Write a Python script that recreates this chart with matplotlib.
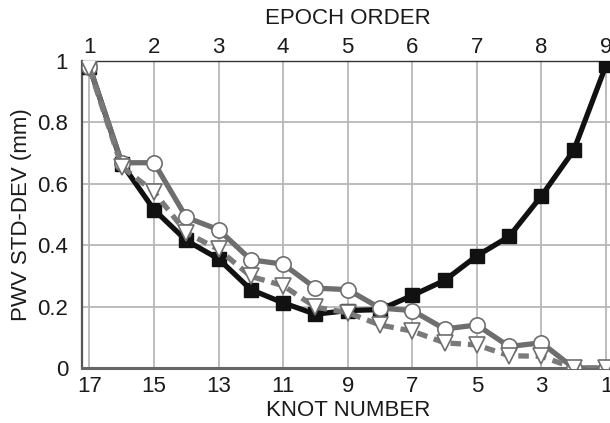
import matplotlib
matplotlib.use("Agg")
import matplotlib.pyplot as plt

plt.rcParams['font.family'] = ['Liberation Sans', 'DejaVu Sans']

knots = [17, 16, 15, 14, 13, 12, 11, 10, 9, 8, 7, 6, 5, 4, 3, 2, 1]
series_square = [0.98, 0.665, 0.515, 0.415, 0.355, 0.255, 0.212, 0.175, 0.187, 0.19, 0.236, 0.285, 0.365, 0.428, 0.56, 0.708, 0.985]
series_circle = [0.98, 0.668, 0.668, 0.49, 0.45, 0.352, 0.338, 0.26, 0.255, 0.195, 0.187, 0.127, 0.14, 0.07, 0.082, 0.0, 0.0]
series_triangle = [0.975, 0.655, 0.573, 0.44, 0.386, 0.298, 0.268, 0.198, 0.18, 0.14, 0.12, 0.082, 0.075, 0.04, 0.038, 0.0, 0.0]

bottom_ticks = [17, 15, 13, 11, 9, 7, 5, 3, 1]
top_ticks = [1, 2, 3, 4, 5, 6, 7, 8, 9]
y_ticks = [0, 0.2, 0.4, 0.6, 0.8, 1.0]
y_tick_labels = ["0", "0.2", "0.4", "0.6", "0.8", "1"]

fig = plt.figure(figsize=(6.10, 4.23), dpi=100)
ax = fig.add_axes([82/610, 55/423, (613.5-82)/610, (368-60.7)/423])

xl = (17.232, 0.768)
ax.set_xlim(*xl)
ax.set_ylim(0, 1)

ax.plot(knots, series_square, color='#111111', lw=3.8, marker='s', ms=10,
        mfc='#111111', mec='#111111', zorder=3)
ax.plot(knots, series_circle, color='#6e6e6e', lw=3.8, marker='o', ms=11,
        mfc='white', mec='#6e6e6e', mew=1.2, zorder=4)
ax.plot(knots, series_triangle, color='#7a7a7a', lw=3.8, ls=(0, (2.0, 1.3)), marker='v', ms=11,
        mfc='white', mec='#6e6e6e', mew=1.2, zorder=5)

ax.set_xticks(bottom_ticks)
ax.set_yticks(y_ticks)
ax.set_yticklabels(y_tick_labels)
ax.grid(True, color='#b8b8b8', lw=1.3)
ax.set_axisbelow(True)
ax.tick_params(axis='both', length=0, labelsize=16, colors='#1a1a1a')
ax.tick_params(axis='x', pad=6)
ax.tick_params(axis='y', pad=10)

ax.spines['right'].set_visible(False)
ax.spines['left'].set_color('#555555')
ax.spines['left'].set_linewidth(1.6)
ax.spines['bottom'].set_color('#666666')
ax.spines['bottom'].set_linewidth(2.2)
ax.spines['top'].set_color('#333333')
ax.spines['top'].set_linewidth(1.0)

ax.set_xlabel('KNOT NUMBER', fontsize=16, color='#1a1a1a', labelpad=2)
ax.set_ylabel('PWV STD-DEV (mm)', fontsize=16, color='#1a1a1a', labelpad=4)

ax2 = ax.twiny()
ax2.set_xlim((19 - xl[0]) / 2, (19 - xl[1]) / 2)
ax2.set_xticks(top_ticks)
ax2.tick_params(axis='x', length=0, labelsize=16, colors='#1a1a1a', pad=2)
for s in ax2.spines.values():
    s.set_visible(False)
ax2.set_xlabel('EPOCH ORDER', fontsize=16, color='#1a1a1a', labelpad=9)

fig.savefig('out.png', dpi=100)
